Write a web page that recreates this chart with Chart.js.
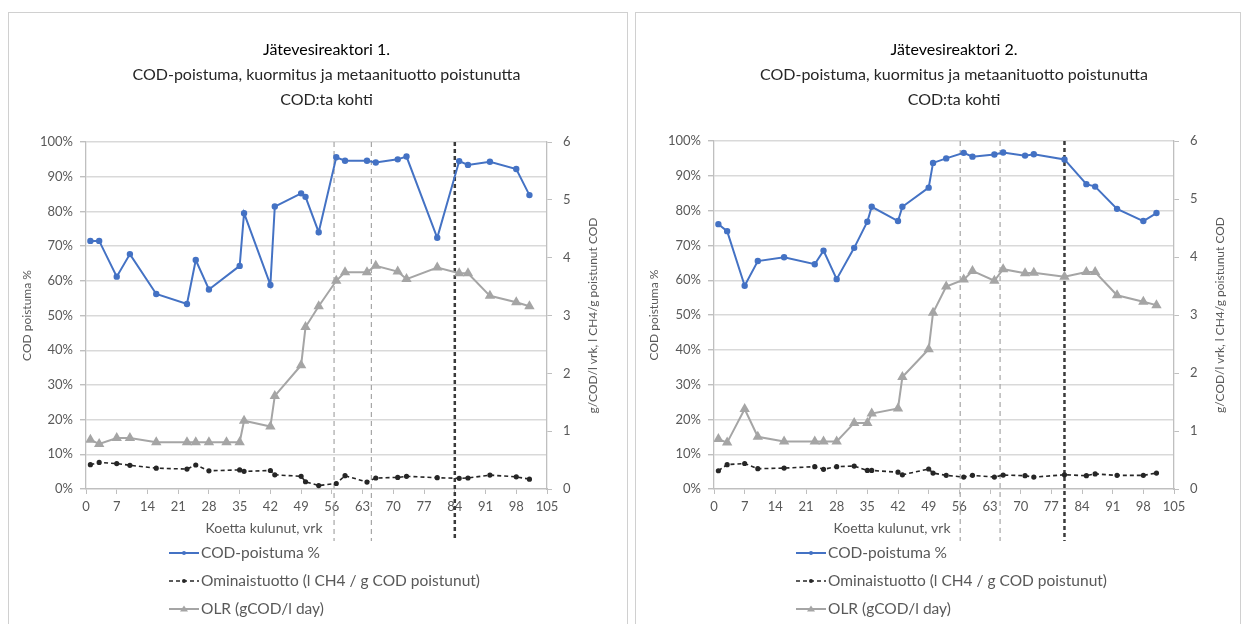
<!DOCTYPE html>
<html lang="fi">
<head>
  <meta charset="UTF-8">
  <title>Jätevesireaktorit</title>
  <script src="https://cdn.jsdelivr.net/npm/chart.js"></script>
  <style>
    body {
      margin: 0;
      background: #fff;
      width: 1246px;
      height: 624px;
      overflow: hidden;
      position: relative;
      font-family: Lato, Arial, sans-serif;
    }
    .panel {
      position: absolute;
      top: 12px;
      height: 640px;
      border: 1px solid #d0d0d0;
      box-sizing: border-box;
    }
    #p1 { left: 8px; width: 620px; }
    #p2 { left: 635px; width: 606px; }
    canvas { position: absolute; top: 0; left: 0; }
  </style>
</head>
<body>
  <div class="panel" id="p1"><canvas id="chart1" width="618" height="611"></canvas></div>
  <div class="panel" id="p2"><canvas id="chart2" width="604" height="611"></canvas></div>

  <script>
    // days since start (vrk)
    const days1 = [1, 3, 7, 10, 16, 23, 25, 28, 32, 35, 36, 42, 43, 49, 50, 53, 57, 59, 64, 66, 71, 73, 80, 85, 87, 92, 98, 101];
    const days2 = [1, 3, 7, 10, 16, 23, 25, 28, 32, 35, 36, 42, 43, 49, 50, 53, 57, 59, 64, 66, 71, 73, 80, 85, 87, 92, 98, 101];

    // reactor 1
    const cod1 = [71.5, 71.5, 61.2, 67.7, 56.2, 53.3, 66, 57.5, null, 64.3, 79.5, 58.8, 81.4, 85.2, 84.2, 74, 95.6, 94.6, 94.6, 94.1, 95, 95.8, 72.4, 94.5, 93.4, 94.3, 92.2, 84.7];
    const omin1 = [0.42, 0.46, 0.44, 0.41, 0.36, 0.345, 0.415, 0.315, null, 0.33, 0.305, 0.32, 0.245, 0.22, 0.125, 0.06, 0.095, 0.23, 0.12, 0.19, 0.2, 0.22, 0.195, 0.185, 0.19, 0.24, 0.21, 0.17];
    const olr1 = [0.85, 0.78, 0.88, 0.88, 0.81, 0.81, 0.81, 0.81, 0.81, 0.81, 1.18, 1.08, 1.61, 2.14, 2.8, 3.16, 3.6, 3.75, 3.75, 3.86, 3.76, 3.63, 3.83, 3.73, 3.73, 3.34, 3.23, 3.16];
    const marks1 = [56.5, 65, 84];

    // reactor 2
    const cod2 = [76.1, 74.1, 58.4, 65.5, 66.6, 64.6, 68.5, 60.3, 69.3, 76.8, 81.1, 77, 81.1, 86.6, 93.7, 95, 96.6, 95.5, 96.1, 96.7, 95.8, 96.2, 94.7, 87.6, 86.9, 80.5, 77, 79.3];
    const omin2 = [0.315, 0.42, 0.44, 0.35, 0.36, 0.385, 0.34, 0.385, 0.395, 0.32, 0.32, 0.29, 0.245, 0.345, 0.275, 0.235, 0.205, 0.235, 0.205, 0.24, 0.23, 0.205, 0.245, 0.23, 0.26, 0.235, 0.235, 0.275];
    const olr2 = [0.86, 0.8, 1.38, 0.9, 0.82, 0.82, 0.82, 0.82, 1.14, 1.14, 1.3, 1.39, 1.93, 2.41, 3.04, 3.49, 3.61, 3.76, 3.59, 3.79, 3.72, 3.73, 3.66, 3.74, 3.74, 3.34, 3.23, 3.17];
    const marks2 = [56.2, 65.3, 80];

    const seriesNames = ['COD-poistuma %', 'Ominaistuotto (l CH4 / g COD poistunut)', 'OLR (gCOD/l day)'];
    const titleLines1 = ['Jätevesireaktori 1.', 'COD-poistuma, kuormitus ja metaanituotto poistunutta', 'COD:ta kohti'];
    const titleLines2 = ['Jätevesireaktori 2.', 'COD-poistuma, kuormitus ja metaanituotto poistunutta', 'COD:ta kohti'];
    const xTitle = 'Koetta kulunut, vrk';
    const yLeftTitle = 'COD poistuma %';
    const yRightTitle = 'g/COD/l vrk, l CH4/g poistunut COD';

    const FONT = 'Lato, Arial, sans-serif';

    function pts(days, vals) {
      return days.map((d, i) => ({ x: d, y: vals[i] }));
    }

    // titles, axis titles, marker lines and legend
    const decor = {
      id: 'decor',
      beforeDatasetsDraw(chart) {
        const o = chart.options.plugins.decor;
        const ctx = chart.ctx;
        const xs = chart.scales.x;
        const a = chart.chartArea;
        ctx.save();
        o.marks.forEach((d, i) => {
          const x = xs.getPixelForValue(d);
          const dark = i === o.marks.length - 1;
          ctx.strokeStyle = dark ? '#3a3a3a' : '#a6a6a6';
          ctx.lineWidth = dark ? 2.5 : 1.2;
          ctx.setLineDash(dark ? [4, 3] : [5, 4]);
          ctx.beginPath();
          ctx.moveTo(x, a.top);
          ctx.lineTo(x, a.bottom + 52);
          ctx.stroke();
        });
        ctx.restore();
      },
      afterDraw(chart) {
        const o = chart.options.plugins.decor;
        const ctx = chart.ctx;
        const a = chart.chartArea;
        const cx = (a.left + a.right) / 2 + 10;
        ctx.save();
        ctx.textAlign = 'center';
        ctx.textBaseline = 'middle';
        o.title.forEach((t, i) => {
          ctx.fillStyle = i === 0 ? '#000' : '#262626';
          ctx.font = '16px ' + FONT;
          ctx.fillText(t, cx, 37 + i * 25);
        });

        ctx.fillStyle = '#595959';
        ctx.font = '14px ' + FONT;
        ctx.fillText(xTitle, a.left + o.xTitleOffset, a.bottom + 39);

        ctx.font = '12px ' + FONT;
        ctx.save();
        ctx.translate(18, (a.top + a.bottom) / 2);
        ctx.rotate(-Math.PI / 2);
        ctx.fillText(yLeftTitle, 0, 0);
        ctx.restore();

        ctx.save();
        ctx.translate(a.right + 46, (a.top + a.bottom) / 2);
        ctx.rotate(-Math.PI / 2);
        ctx.fillText(yRightTitle, 0, 0);
        ctx.restore();

        // legend, one item per row
        ctx.textAlign = 'left';
        ctx.font = '15.5px ' + FONT;
        chart.data.datasets.forEach((ds, i) => {
          const y = 540 + i * 28;
          const x0 = o.legendX;
          ctx.strokeStyle = ds.borderColor;
          ctx.lineWidth = ds.borderWidth;
          ctx.setLineDash(ds.borderDash || []);
          ctx.beginPath();
          ctx.moveTo(x0, y);
          ctx.lineTo(x0 + 30, y);
          ctx.stroke();
          ctx.setLineDash([]);
          ctx.fillStyle = ds.pointBackgroundColor;
          ctx.beginPath();
          if (ds.pointStyle === 'triangle') {
            ctx.moveTo(x0 + 15, y - 3.5);
            ctx.lineTo(x0 + 19, y + 2.5);
            ctx.lineTo(x0 + 11, y + 2.5);
          } else {
            ctx.arc(x0 + 15, y, 2, 0, Math.PI * 2);
          }
          ctx.fill();
          ctx.fillStyle = '#595959';
          ctx.fillText(ds.label, x0 + 32, y);
        });
        ctx.restore();
      }
    };

    function makeChart(id, days, cod, omin, olr, marks, title, legendX, xTitleOffset, padRight, padTop, leftW) {
      return new Chart(document.getElementById(id), {
        type: 'line',
        data: {
          datasets: [
            {
              label: seriesNames[0],
              data: pts(days, cod),
              yAxisID: 'y',
              borderColor: '#4472C4',
              backgroundColor: '#4472C4',
              pointBackgroundColor: '#4472C4',
              pointBorderColor: '#4472C4',
              borderWidth: 2,
              pointRadius: 2.2,
              pointStyle: 'circle'
            },
            {
              label: seriesNames[1],
              data: pts(days, omin),
              yAxisID: 'y2',
              borderColor: '#262626',
              backgroundColor: '#262626',
              pointBackgroundColor: '#262626',
              pointBorderColor: '#262626',
              borderWidth: 1.6,
              borderDash: [4, 3],
              pointRadius: 1.8,
              pointStyle: 'circle'
            },
            {
              label: seriesNames[2],
              data: pts(days, olr),
              yAxisID: 'y2',
              borderColor: '#A5A5A5',
              backgroundColor: '#A5A5A5',
              pointBackgroundColor: '#A5A5A5',
              pointBorderColor: '#A5A5A5',
              borderWidth: 2,
              pointRadius: 4,
              pointStyle: 'triangle'
            }
          ]
        },
        options: {
          responsive: false,
          animation: false,
          spanGaps: true,
          layout: { padding: { top: padTop, right: padRight, bottom: 100, left: 0 } },
          plugins: {
            legend: { display: false },
            tooltip: { enabled: false },
            decor: { marks: marks, title: title, legendX: legendX, xTitleOffset: xTitleOffset }
          },
          scales: {
            x: {
              type: 'linear',
              min: 0,
              max: 105,
              ticks: { stepSize: 7, color: '#595959', font: { family: FONT, size: 13 }, padding: 5 },
              grid: { drawOnChartArea: false, tickLength: 5, color: '#bfbfbf' },
              border: { color: '#bfbfbf', width: 1.3 },
              afterFit(s) { s.height = 35; }
            },
            y: {
              position: 'left',
              min: 0,
              max: 100,
              ticks: { stepSize: 10, color: '#595959', font: { family: FONT, size: 13 }, padding: 7, callback: v => v + '%' },
              grid: { color: '#d9d9d9', lineWidth: 1.4, tickLength: 6, tickColor: '#bfbfbf' },
              border: { color: '#bfbfbf', width: 1.3 },
              afterFit(s) { s.width = leftW; }
            },
            y2: {
              position: 'right',
              min: 0,
              max: 6,
              ticks: { stepSize: 1, color: '#595959', font: { family: FONT, size: 13 }, padding: 11 },
              grid: { drawOnChartArea: false, tickLength: 5, color: '#bfbfbf' },
              border: { color: '#bfbfbf', width: 1.3 },
              afterFit(s) { s.width = 56; }
            }
          }
        },
        plugins: [decor]
      });
    }

    makeChart('chart1', days1, cod1, omin1, olr1, marks1, titleLines1, 160, 178, 24, 129, 77);
    makeChart('chart2', days2, cod2, omin2, olr2, marks2, titleLines2, 160, 178, 10, 128, 78);
  </script>
</body>
</html>
